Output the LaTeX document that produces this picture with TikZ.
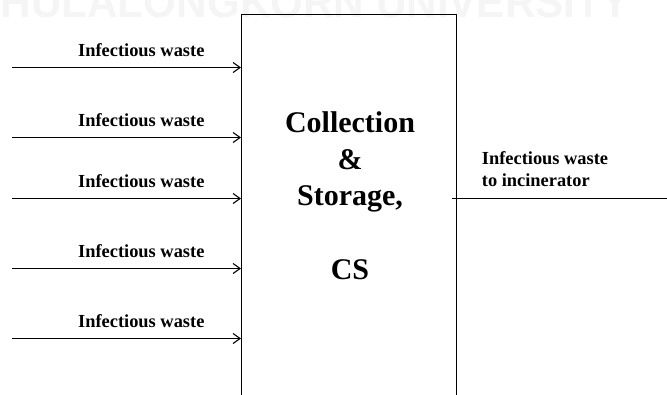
\documentclass[tikz,border=0pt]{standalone}
\usepackage{fontspec}
\setmainfont{Liberation Serif}
\newfontfamily\wmfont{Liberation Sans}
\usetikzlibrary{arrows.meta}

\tikzset{
  flow/.style={line width=1.2pt, -{Straight Barb[length=7pt,width=10pt,line width=1.1pt]}},
  outflow/.style={line width=1.2pt},
  unitbox/.style={draw, line width=1.4pt, minimum width=215pt, minimum height=406pt, inner sep=0pt},
  flowlabel/.style={inner sep=0pt, font=\bfseries\fontsize{18.4}{21.7}\selectfont},
  unitlabel/.style={inner sep=0pt, align=center, font=\bfseries\fontsize{30}{36.7}\selectfont},
  watermark/.style={inner sep=0pt, text=black!4, font=\wmfont\bfseries\fontsize{44}{44}\selectfont, xscale=0.96}
}

\begin{document}
\begin{tikzpicture}[x=1pt,y=1pt]
  \useasboundingbox (0,0) rectangle (667,-394);
  \begin{scope}
    \clip (0,0) rectangle (667,-394);
    % faint letterhead watermark
    \node[watermark, anchor=base west] (wm) at (-30,-17) {CHULALONGKORN UNIVERSITY};

    % collection and storage unit (open at the bottom of the page)
    \node[unitbox, anchor=north west] (cs) at (241,-14) {};
    \node[unitlabel, anchor=north] (cstext) at (350,-111.5)
      {Collection\\ \&\\ Storage,\\[36.7pt] CS};

    % incoming streams
    \foreach \i/\y in {1/67.5, 2/137.5, 3/198.5, 4/268.5, 5/338.5} {
      \coordinate (in\i) at (12,-\y);
      \node[flowlabel, anchor=base west] (lab\i) at (78,-\y+11.5) {Infectious waste};
      \draw[flow] (in\i) -- (in\i -| cs.west);
    }

    % outgoing stream
    \coordinate (out1) at (451.7,-198.3);
    \coordinate (out2) at (667,-198.3);
    \draw[outflow] (out1) -- (out2);
    \node[flowlabel, anchor=north west, align=left] (outlab) at (481.7,-151.5)
      {Infectious waste\\ to incinerator};
  \end{scope}
\end{tikzpicture}
\end{document}
